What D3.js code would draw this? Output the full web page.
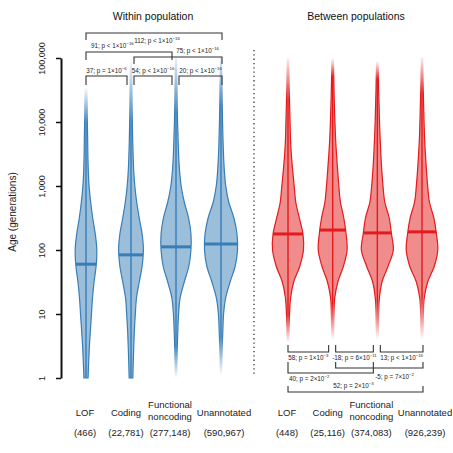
<!DOCTYPE html>
<html><head><meta charset="utf-8">
<script src="https://cdn.jsdelivr.net/npm/d3@7"></script>
<style>body{margin:0;background:#fff}svg{display:block;font-family:"Liberation Sans",Arial,Helvetica,sans-serif}</style>
</head><body>
<svg id="c" width="453" height="453"></svg>
<script>
// ---------- data ----------
const categories = ["LOF", "Coding", "Functional noncoding", "Unannotated"];
const withinCounts = ["(466)", "(22,781)", "(277,148)", "(590,967)"];
const betweenCounts = ["(448)", "(25,116)", "(374,083)", "(926,239)"];
const yTicks = [1, 10, 100, 1000, 10000, 100000];
const yTickLabels = ["1", "10", "100", "1,000", "10,000", "100,000"];
// log10(age) grid for densities
const gridExp = [0,0.25,0.5,0.75,1,1.25,1.5,1.75,2,2.25,2.5,2.75,3,3.25,3.5,3.75,4,4.25,4.5,4.75,5];
// relative densities (within population)
const withinLOF   = [2,2.6,3.3,4.3,5.3,6.3,7.8,9.8,10.5,9,6.5,4.5,3,2.2,1.8,1.6,1.3,1.1,0.9,0.7,0.5];
const withinCod   = [1.8,2.2,2.7,3.3,4.2,5.3,8,10.8,12,10.8,8,5.5,3.7,2.6,2,1.6,1.3,1.1,0.9,0.7,0.5];
const withinFnc   = [0.6,0.9,1.3,1.8,2.5,4,8,12.5,14.5,14.5,12.2,8,5,3.4,2.5,2,1.5,1.2,1,0.7,0.5];
const withinUna   = [0.5,0.8,1.2,1.8,2.5,4.5,8.8,13.8,16,15.5,12.5,7.5,4.6,3.2,2.4,1.9,1.5,1.2,1,0.7,0.5];
// relative densities (between populations)
const betweenLOF  = [0.3,0.5,0.7,1,1.5,2.5,5.5,11.5,15,14.5,11,7.5,6,4.5,3.2,2.4,2,1.6,1.2,0.9,0.6];
const betweenCod  = [0.3,0.5,0.7,1,1.3,2,5,10.5,14,13,10.8,7.5,6,4.8,3.7,2.8,2.2,1.7,1.3,1,0.6];
const betweenFnc  = [0.3,0.5,0.7,1,1.3,2,4.5,10.5,15.5,13.7,11.5,7.2,5.5,4.3,3.4,2.7,2.1,1.7,1.3,1,0.6];
const betweenUna  = [0.3,0.5,0.7,1,1.3,2.2,5.5,12,15.3,14,11.5,7.2,5.5,4.3,3.3,2.5,2,1.6,1.2,0.9,0.6];
// data extents in log10(age): [bottom faded end, bottom solid, top solid, top faded end]
const withinTails  = [[-0.2,-0.1,4.0,4.55],[-0.2,-0.1,4.0,5.0],[0.0,0.5,4.15,5.1],[0.05,0.64,4.25,5.1]];
const betweenTails = [[0.55,1.0,4.34,5.05],[0.6,1.17,4.7,5.0],[0.6,1.22,4.66,4.95],[0.6,1.27,4.45,5.05]];
// medians (generations)
const withinMedians  = [60, 84, 112, 124];
const betweenMedians = [178, 205, 185, 192];
// pairwise tests
const withinTests = [
  {from:0, to:1, diff:"37",  op:"=", mant:"1", exp:"−6"},
  {from:1, to:2, diff:"54",  op:"<", mant:"1", exp:"−16"},
  {from:2, to:3, diff:"20",  op:"<", mant:"1", exp:"−16"},
  {from:1, to:3, diff:"75",  op:"<", mant:"1", exp:"−16"},
  {from:0, to:2, diff:"91",  op:"<", mant:"1", exp:"−16"},
  {from:0, to:3, diff:"112", op:"<", mant:"1", exp:"−16"}
];
const betweenTests = [
  {from:0, to:1, diff:"58",  op:"=", mant:"1", exp:"−3"},
  {from:1, to:2, diff:"-18", op:"=", mant:"6", exp:"−11"},
  {from:2, to:3, diff:"13",  op:"<", mant:"1", exp:"−16"},
  {from:0, to:2, diff:"40",  op:"=", mant:"2", exp:"−2"},
  {from:1, to:3, diff:"-5",  op:"=", mant:"7", exp:"−2"},
  {from:0, to:3, diff:"52",  op:"=", mant:"2", exp:"−3"}
];

// ---------- drawing ----------
const BLUE = "#377eb8", RED = "#e41a1c";
const svg = d3.select("#c");
const defs = svg.append("defs");
const y = d3.scaleLog().domain([1, 1e5]).range([378, 58]);
const xWithin = d3.scalePoint().domain(d3.range(4)).range([86, 221]);
const xBetween = d3.scalePoint().domain(d3.range(4)).range([288, 422]);
const w = d3.scaleLinear().domain([0, 16]).range([0, 16.5]);

function densAt(d, e) {
  const k = Math.max(0, Math.min(gridExp.length - 2, Math.floor(e / 0.25)));
  const t = (e - gridExp[k]) / (gridExp[k+1] - gridExp[k]);
  return d[k] + (d[k+1] - d[k]) * t;
}

function drawViolins(dens, tails, medians, xs, color, prefix) {
  dens.forEach((d, i) => {
    const cx = xs(i);
    const pts = gridExp.map((e, k) => ({v: Math.pow(10, e), d: d[k]}));
    const t = tails[i];
    const gid = prefix + "g" + i, mid = prefix + "m" + i;
    const grad = defs.append("linearGradient").attr("id", gid)
      .attr("gradientUnits", "userSpaceOnUse")
      .attr("x1", 0).attr("x2", 0).attr("y1", 0).attr("y2", 453);
    [[t[3], 0], [t[2], 1], [t[1], 1], [t[0], 0]].forEach(([e, o]) =>
      grad.append("stop").attr("offset", Math.min(1, y(Math.pow(10, e)) / 453))
        .attr("stop-color", "#fff").attr("stop-opacity", o));
    defs.append("mask").attr("id", mid).attr("maskUnits", "userSpaceOnUse")
      .attr("x", 0).attr("y", 0).attr("width", 453).attr("height", 453)
      .append("rect").attr("width", 453).attr("height", 453).attr("fill", `url(#${gid})`);
    const g = svg.append("g").attr("mask", `url(#${mid})`);
    const area = d3.area()
      .x0(p => cx - w(p.d)).x1(p => cx + w(p.d)).y(p => y(p.v))
      .curve(d3.curveCatmullRom);
    g.append("path").attr("d", area(pts))
      .attr("fill", color).attr("fill-opacity", 0.5)
      .attr("stroke", color).attr("stroke-width", 1.2);
    g.append("line").attr("x1", cx).attr("x2", cx)
      .attr("y1", y(1)).attr("y2", y(1e5))
      .attr("stroke", color).attr("stroke-width", 1.4);
    const mw = w(densAt(d, Math.log10(medians[i])));
    svg.append("line").attr("x1", cx - mw).attr("x2", cx + mw)
      .attr("y1", y(medians[i])).attr("y2", y(medians[i]))
      .attr("stroke", color).attr("stroke-width", 3);
  });
}

drawViolins([withinLOF, withinCod, withinFnc, withinUna], withinTails, withinMedians, xWithin, BLUE, "w");
drawViolins([betweenLOF, betweenCod, betweenFnc, betweenUna], betweenTails, betweenMedians, xBetween, RED, "b");

// y axis
const axis = svg.append("g").attr("transform", "translate(61,0)")
  .call(d3.axisLeft(y).tickValues(yTicks).tickFormat((d, i) => yTickLabels[i]).tickSize(5).tickSizeOuter(0));
axis.select(".domain").attr("stroke", "#111").attr("stroke-width", 2);
axis.selectAll(".tick line").attr("stroke", "#111").attr("stroke-width", 1.5);
axis.selectAll(".tick text")
  .attr("x", null).attr("dy", null).attr("text-anchor", "middle")
  .attr("transform", "translate(-16,0) rotate(-90)")
  .attr("font-size", 9).attr("fill", "#222")
  .attr("font-family", '"Liberation Sans", Arial, sans-serif');
svg.append("text").attr("transform", "translate(16,212) rotate(-90)")
  .attr("text-anchor", "middle").attr("font-size", 10).attr("fill", "#222")
  .text("Age (generations)");

// panel titles
svg.append("text").attr("x", 153).attr("y", 20).attr("text-anchor", "middle")
  .attr("font-size", 10.5).attr("fill", "#111").text("Within population");
svg.append("text").attr("x", 356).attr("y", 20).attr("text-anchor", "middle")
  .attr("font-size", 10.5).attr("fill", "#111").text("Between populations");

// separator
svg.append("line").attr("x1", 254).attr("x2", 254).attr("y1", 50).attr("y2", 376)
  .attr("stroke", "#333").attr("stroke-width", 1.3).attr("stroke-dasharray", "1.3,3");

// category labels
const nudge = [-1, -5, -6, 3];
function catLabels(xs, counts) {
  categories.forEach((c, i) => {
    const x = xs(i) + nudge[i];
    const words = c === "Functional noncoding" ? ["Functional", "noncoding"] : [c];
    const t = svg.append("text").attr("text-anchor", "middle").attr("font-size", 9.5).attr("fill", "#222");
    if (words.length === 2) {
      t.append("tspan").attr("x", x).attr("y", 408).text(words[0]);
      t.append("tspan").attr("x", x).attr("y", 420).text(words[1]);
    } else {
      t.attr("x", x).attr("y", 416).text(c);
    }
    svg.append("text").attr("x", x).attr("y", 436).attr("text-anchor", "middle")
      .attr("font-size", 9.5).attr("fill", "#222").text(counts[i]);
  });
}
catLabels(xWithin, withinCounts);
catLabels(xBetween, betweenCounts);

// brackets
function label(x, yy, anchor, tst) {
  const t = svg.append("text").attr("x", x).attr("y", yy).attr("text-anchor", anchor)
    .attr("font-size", 6.3).attr("fill", "#222");
  t.append("tspan").text(`${tst.diff}; p ${tst.op} ${tst.mant}×10`);
  t.append("tspan").attr("font-size", 4.3).attr("dy", -2.6).text(tst.exp);
}
function ends(xs, tst) {
  const x1 = xs(tst.from) + (tst.from === 0 ? 0 : 3);
  const x2 = xs(tst.to) - (tst.to === 3 ? -1 : 4);
  return [x1, x2];
}
const bk = {stroke: "#333", w: 1.1};
withinTests.forEach(tst => {
  const [x1, x2] = ends(xWithin, tst);
  const span = tst.to - tst.from;
  let ly, leg;
  if (span === 1) { ly = 76; leg = 85; }
  else if (span === 2 && tst.from === 1) { ly = 57; leg = 64; }
  else if (span === 2) { ly = 52; leg = 60; }
  else { ly = 33; leg = 40; }
  svg.append("path").attr("d", `M${x1},${leg}V${ly}H${x2}V${leg}`)
    .attr("fill", "none").attr("stroke", bk.stroke).attr("stroke-width", bk.w);
  if (span === 1) label((x1 + x2) / 2, 73, "middle", tst);
  else if (span === 2 && tst.from === 1) label(x2 - 3, 53, "end", tst);
  else if (span === 2) label(x1 + 5, 48, "start", tst);
  else label((x1 + x2) / 2 + 3, 43, "middle", tst);
});
betweenTests.forEach(tst => {
  const [x1, x2] = ends(xBetween, tst);
  const span = tst.to - tst.from;
  let ly, leg;
  if (span === 1) { ly = 352; leg = 345; }
  else if (span === 2 && tst.from === 1) { ly = 368; leg = 362; }
  else if (span === 2) { ly = 373; leg = 362; }
  else { ly = 392; leg = 386; }
  svg.append("path").attr("d", `M${x1},${leg}V${ly}H${x2}V${leg}`)
    .attr("fill", "none").attr("stroke", bk.stroke).attr("stroke-width", bk.w);
  if (span === 1) label((x1 + x2) / 2, 360, "middle", tst);
  else if (span === 2 && tst.from === 1) label(x2 - 9, 379, "end", tst);
  else if (span === 2) label(x1 + 1, 381, "start", tst);
  else label((x1 + x2) / 2 - 2, 388, "middle", tst);
});
</script>
</body></html>
